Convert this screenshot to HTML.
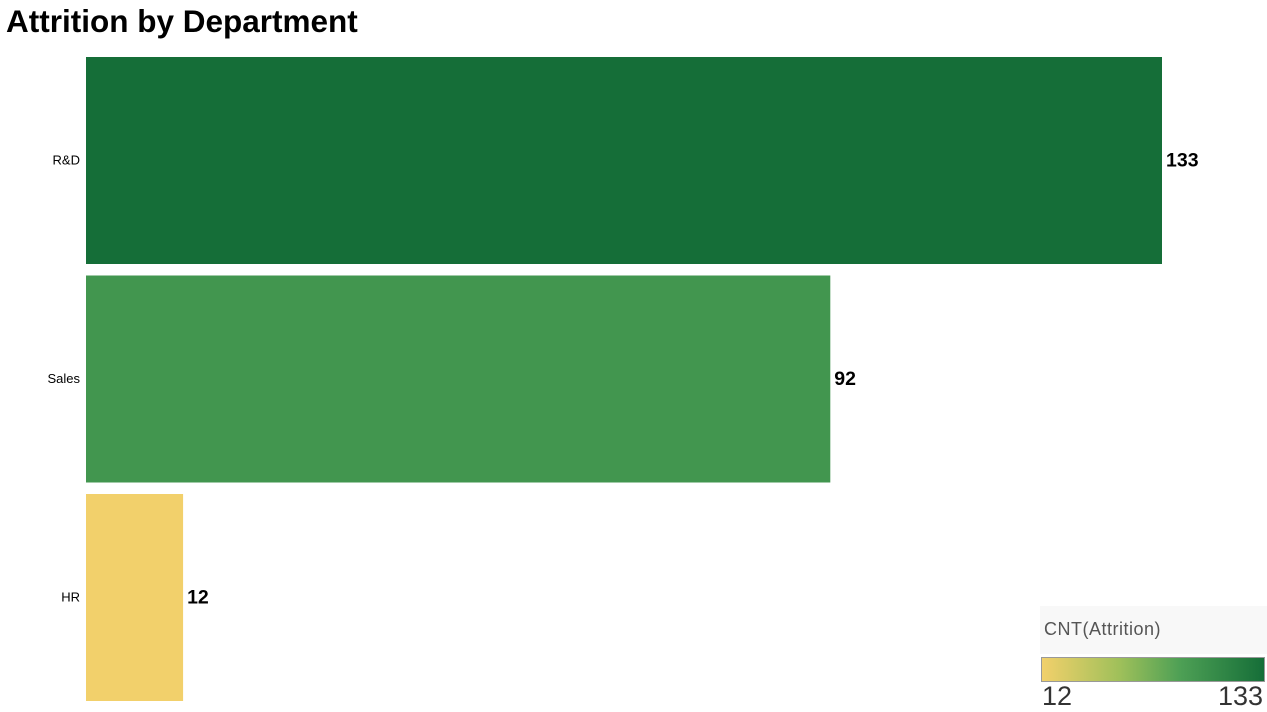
<!DOCTYPE html>
<html><head><meta charset="utf-8"><style>
body{margin:0;width:1267px;height:712px;background:#fff;overflow:hidden;font-family:"Liberation Sans",sans-serif;position:relative}
#title{position:absolute;left:6px;top:3px;font-size:31.5px;font-weight:bold;color:#000}
#legend{position:absolute;left:1040px;top:606px;width:227px;height:48px;background:#f8f8f8}
#legend .t{position:absolute;left:4px;top:13px;font-size:18px;letter-spacing:0.5px;color:#555}
#grad{position:absolute;left:1041px;top:657px;width:222px;height:23px;border:1px solid #999;background:linear-gradient(to right,#f2d06b 0%,#9fc05a 35%,#4ea055 62%,#156e38 100%)}
.lv{position:absolute;top:681px;font-size:27px;color:#333}
</style></head><body>
<div id="title">Attrition by Department</div>
<svg id="chart" width="1267" height="712" style="position:absolute;left:0;top:0"></svg>
<div id="legend"><div class="t">CNT(Attrition)</div></div>
<div id="grad"></div>
<div class="lv" style="left:1042px">12</div>
<div class="lv" style="left:1218px">133</div>
<script>
const categories=["R&D","Sales","HR"];
const values=[133,92,12];
const NS="http://www.w3.org/2000/svg";
const svg=document.getElementById('chart');
const x0=86,pxPer=1076/133,top0=57,band=218.5,barH=207;
const minV=Math.min(...values),maxV=Math.max(...values);
const stops=[[0,[242,208,107]],[0.35,[159,192,90]],[0.62,[72,155,82]],[1,[21,110,56]]];
function color(v){const t=maxV===minV?1:(v-minV)/(maxV-minV);
 for(let i=1;i<stops.length;i++){if(t<=stops[i][0]){const a=stops[i-1],b=stops[i];const f=(t-a[0])/(b[0]-a[0]);
 return 'rgb('+a[1].map((c,k)=>Math.round(c+(b[1][k]-c)*f)).join(',')+')';}}return 'rgb(21,110,56)';}
function xs(v){return v*pxPer;}
categories.forEach((c,i)=>{
 const y=top0+i*band;
 const r=document.createElementNS(NS,'rect');
 r.setAttribute('x',x0);r.setAttribute('y',y);r.setAttribute('width',xs(values[i]));r.setAttribute('height',barH);r.setAttribute('fill',color(values[i]));
 
 
 svg.appendChild(r);
 const l=document.createElementNS(NS,'text');
 l.setAttribute('x',80);l.setAttribute('y',y+barH/2+4);l.setAttribute('text-anchor','end');l.setAttribute('font-size','13');l.textContent=c;
 
 
 svg.appendChild(l);
 const v=document.createElementNS(NS,'text');
 v.setAttribute('x',x0+xs(values[i])+4);v.setAttribute('y',y+barH/2+6);v.setAttribute('font-size','19.5');v.setAttribute('font-weight','bold');v.textContent=values[i];
 
 
 svg.appendChild(v);
});
</script>
</body></html>
